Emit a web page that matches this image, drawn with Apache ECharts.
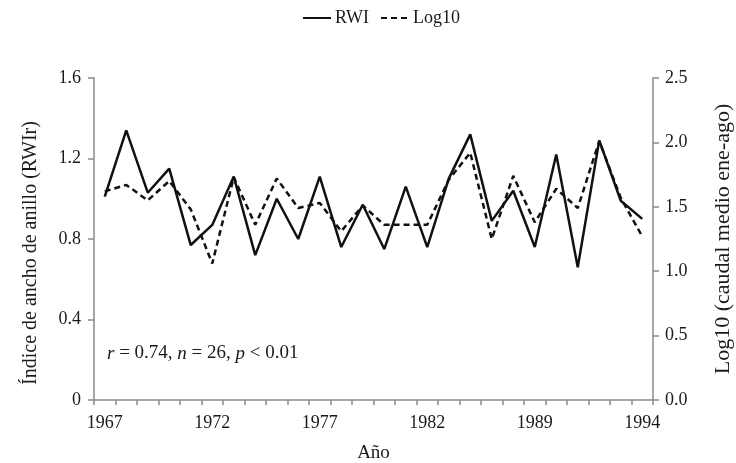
<!DOCTYPE html>
<html>
<head>
<meta charset="utf-8">
<script src="https://cdn.jsdelivr.net/npm/echarts@6/dist/echarts.min.js"></script>
<style>
  html, body { margin: 0; padding: 0; background: #fff; }
  #chart { width: 736px; height: 463px; }
</style>
</head>
<body>
<div id="chart"></div>
<script>
// años (faltan 1983 y 1984)
const years = ['1967','1968','1969','1970','1971','1972','1973','1974','1975','1976','1977','1978','1979','1980','1981','1982',
               '1985','1986','1987','1988','1989','1990','1991','1992','1993','1994']
const rwi = [1.01, 1.34, 1.03, 1.15, 0.77, 0.87, 1.11, 0.72, 1.0, 0.8, 1.11, 0.76, 0.97, 0.75, 1.06, 0.76,
             1.1, 1.32, 0.89, 1.04, 0.76, 1.22, 0.66, 1.29, 0.99, 0.9]
const log10 = [1.62, 1.67, 1.55, 1.7, 1.48, 1.06, 1.73, 1.36, 1.72, 1.49, 1.53, 1.31, 1.51, 1.36, 1.36, 1.36,
               1.71, 1.92, 1.25, 1.74, 1.38, 1.64, 1.49, 2.01, 1.57, 1.27]
const leftTicks = { min: 0, max: 1.6, interval: 0.4 }
const rightTicks = { min: 0, max: 2.5, interval: 0.5 }

const font = 'Liberation Serif'
const axisColor = '#8a8a8a'
const txt = '#1a1a1a'

const chart = echarts.init(document.getElementById('chart'))
chart.setOption({
    animation: false,
    textStyle: { fontFamily: font, color: txt },
    legend: {
        top: 4,
        left: 297,
        itemWidth: 28,
        itemHeight: 12,
        itemGap: 11,
        itemStyle: { opacity: 0 },
        textStyle: { fontFamily: font, fontSize: 18, color: txt, padding: [0, 0, 0, -1] },
        data: ['RWI', 'Log10']
    },
    grid: { left: 94, right: 83, top: 78, bottom: 63, outerBoundsMode: 'none', containLabel: false },
    xAxis: {
        type: 'category',
        data: years,
        boundaryGap: true,
        name: 'Año',
        nameLocation: 'middle',
        nameGap: 44,
        nameTextStyle: { fontFamily: font, fontSize: 19, color: txt },
        axisLine: { lineStyle: { color: axisColor, width: 1.5 } },
        axisTick: { show: true, interval: 0, length: 5, lineStyle: { color: axisColor, width: 1.5 } },
        axisLabel: { interval: 4, fontFamily: font, fontSize: 18, color: txt, margin: 14 },
        splitLine: { show: false }
    },
    yAxis: [
        {
            type: 'value',
            min: leftTicks.min,
            max: leftTicks.max,
            interval: leftTicks.interval,
            name: 'Índice de ancho de anillo (RWIr)',
            nameLocation: 'middle',
            nameGap: 53,
            nameTextStyle: { fontFamily: font, fontSize: 20, color: txt, padding: [0, 28, 0, 0] },
            axisLine: { show: true, lineStyle: { color: axisColor, width: 1.5 } },
            axisTick: { show: true, length: 6, lineStyle: { color: axisColor, width: 1.5 } },
            axisLabel: {
                fontFamily: font, fontSize: 18, color: txt, margin: 13,
                formatter: v => v === 0 ? '0' : v.toFixed(1)
            },
            splitLine: { show: false }
        },
        {
            type: 'value',
            position: 'right',
            min: rightTicks.min,
            max: rightTicks.max,
            interval: rightTicks.interval,
            name: 'Log10 (caudal medio ene-ago)',
            nameLocation: 'middle',
            nameRotate: 90,
            nameGap: 59,
            nameTextStyle: { fontFamily: font, fontSize: 22, color: txt },
            axisLine: { show: true, lineStyle: { color: axisColor, width: 1.5 } },
            axisTick: { show: true, length: 6, lineStyle: { color: axisColor, width: 1.5 } },
            axisLabel: {
                fontFamily: font, fontSize: 18, color: txt, margin: 12,
                formatter: v => v.toFixed(1)
            },
            splitLine: { show: false }
        }
    ],
    graphic: [
        {
            type: 'text',
            left: 107,
            top: 344,
            style: {
                text: '{i|r} = 0.74, {i|n} = 26, {i|p} < 0.01',
                fontFamily: font,
                fontSize: 19,
                fill: txt,
                rich: { i: { fontFamily: font, fontSize: 19, fontStyle: 'italic', fill: txt } }
            }
        }
    ],
    series: [
        {
            name: 'RWI',
            type: 'line',
            yAxisIndex: 0,
            data: rwi,
            symbol: 'none',
            lineStyle: { color: '#111', width: 2.5, type: 'solid' },
            itemStyle: { color: '#111' }
        },
        {
            name: 'Log10',
            type: 'line',
            yAxisIndex: 1,
            data: log10,
            symbol: 'none',
            lineStyle: { color: '#111', width: 2.5, type: [6, 4] },
            itemStyle: { color: '#111' }
        }
    ]
})
</script>
</body>
</html>
